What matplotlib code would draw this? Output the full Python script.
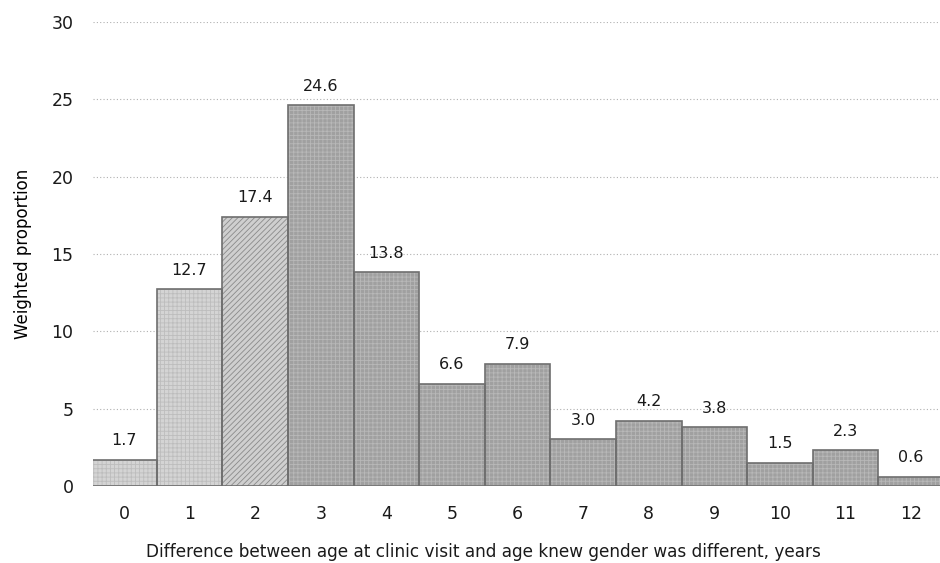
import matplotlib
matplotlib.use("Agg")
import matplotlib.pyplot as plt

years = [0, 1, 2, 3, 4, 5, 6, 7, 8, 9, 10, 11, 12]
proportion = [1.7, 12.7, 17.4, 24.6, 13.8, 6.6, 7.9, 3.0, 4.2, 3.8, 1.5, 2.3, 0.6]
labels = ["1.7", "12.7", "17.4", "24.6", "13.8", "6.6", "7.9", "3.0", "4.2", "3.8", "1.5", "2.3", "0.6"]

plt.rcParams['hatch.linewidth'] = 0.6

fig = plt.figure(figsize=(9.4, 5.63), dpi=100)
ax = fig.add_axes([0.099, 0.137, 0.901, 0.824])

for x, v in zip(years, proportion):
    if x < 2:
        fc, hc, hatch = '#d4d4d4', '#bdbdbd', '++++'
    elif x == 2:
        fc, hc, hatch = '#cfcfcf', '#8a8a8a', '//////'
    else:
        fc, hc, hatch = '#a0a0a0', '#b8b8b8', '++++'
    ax.bar(x, v, width=1.0, color=fc, edgecolor=hc, hatch=hatch, linewidth=0, zorder=2)
    ax.bar(x, v, width=1.0, color='none', edgecolor='#6e6e6e', linewidth=1.2, zorder=3)

for x, v, t in zip(years, proportion, labels):
    ax.text(x, v + 0.75, t, ha='center', va='bottom', fontsize=11.5, color='#1a1a1a')

ax.set_xlim(-0.47, 12.44)
ax.set_ylim(0, 30)
ax.set_yticks([0, 5, 10, 15, 20, 25, 30])
ax.set_xticks(years)
ax.grid(axis='y', linestyle=(0, (1, 2)), color='#b0b0b0', linewidth=0.8, zorder=0)
for s in ax.spines.values():
    s.set_visible(False)
ax.tick_params(length=0, labelsize=12.5, colors='#1a1a1a')
ax.tick_params(axis='y', pad=14)
ax.tick_params(axis='x', pad=14)
ax.set_ylabel("Weighted proportion", fontsize=12, labelpad=14)
fig.text(483 / 940, 1 - 552 / 563,
         "Difference between age at clinic visit and age knew gender was different, years",
         ha='center', va='center', fontsize=12.2, color='#1a1a1a')

fig.savefig("out.png", dpi=100)
